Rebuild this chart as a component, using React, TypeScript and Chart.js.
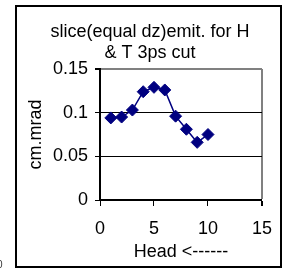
import React, { useEffect, useRef } from "react";
import { Chart, registerables } from "chart.js";

Chart.register(...registerables);

const titleLines = ["slice(equal dz)emit. for H", "& T 3ps cut"];
const xAxisTitle = "Head <------";
const yAxisTitle = "cm.mrad";
const slices = [1, 2, 3, 4, 5, 6, 7, 8, 9, 10];
const emittance = [0.094, 0.095, 0.103, 0.124, 0.129, 0.126, 0.096, 0.081, 0.066, 0.075];
const xTickValues = [0, 5, 10, 15];
const xTickLabels = ["0", "5", "10", "15"];
const yTickValues = [0, 0.05, 0.1, 0.15];
const yTickLabels = ["0", "0.05", "0.1", "0.15"];

const FONT_FAMILY = "'Liberation Sans', Arial, sans-serif";

export default function App() {
  const ref = useRef<HTMLCanvasElement | null>(null);

  useEffect(() => {
    if (!ref.current) return;
    const font = { family: FONT_FAMILY, size: 18, lineHeight: 1.2 };
    const titlePlugin = {
      id: "boxTitle",
      afterDraw(chart: any) {
        const ctx = chart.ctx;
        ctx.save();
        ctx.font = `18px ${FONT_FAMILY}`;
        ctx.fillStyle = "#000";
        ctx.textAlign = "center";
        ctx.textBaseline = "middle";
        titleLines.forEach((line, i) => ctx.fillText(line, 150, 32 + i * 21));
        ctx.restore();
      },
    };
    const chart = new Chart(ref.current, {
      type: "line",
      data: {
        datasets: [
          {
            data: slices.map((x, i) => ({ x, y: emittance[i] })),
            borderColor: "#000080",
            backgroundColor: "#000080",
            borderWidth: 1.5,
            pointStyle: "rectRot",
            pointRadius: 6,
            pointBorderWidth: 1,
            pointBackgroundColor: "#000080",
            pointBorderColor: "#000080",
            tension: 0,
          },
        ],
      },
      options: {
        responsive: false,
        animation: false,
        layout: { padding: { left: 16, top: 69, right: 20, bottom: 12 } },
        plugins: {
          legend: { display: false },
          tooltip: { enabled: false },
          title: { display: false },
        },
        scales: {
          x: {
            type: "linear",
            min: 0,
            max: 15,
            afterBuildTicks: (s: any) => {
              s.ticks = xTickValues.map((v) => ({ value: v }));
            },
            afterFit: (s: any) => {
              s.height = 63;
            },
            ticks: {
              font,
              color: "#000",
              padding: 12,
              maxRotation: 0,
              autoSkip: false,
              callback: (v: any) => xTickLabels[xTickValues.indexOf(Number(v))] ?? "",
            },
            grid: {
              color: (c: any) => (c.tick && c.tick.value === 15 ? "#808080" : "rgba(0,0,0,0)"),
              lineWidth: (c: any) => (c.tick && c.tick.value === 15 ? 2 : 1),
              tickColor: "#000",
              tickLength: 6,
            },
            border: { color: "#000", width: 2 },
            title: { display: true, text: xAxisTitle, font, color: "#000", padding: 0 },
          },
          y: {
            type: "linear",
            min: 0,
            max: 0.15,
            afterBuildTicks: (s: any) => {
              s.ticks = yTickValues.map((v) => ({ value: v }));
            },
            afterFit: (s: any) => {
              s.width = 84;
            },
            ticks: {
              font,
              color: "#000",
              padding: 7,
              autoSkip: false,
              callback: (v: any) => {
                const idx = yTickValues.findIndex((t) => Math.abs(t - Number(v)) < 1e-9);
                return idx >= 0 ? yTickLabels[idx] : "";
              },
            },
            grid: {
              color: (c: any) => {
                if (!c.tick) return "#000";
                if (Math.abs(c.tick.value - 0.15) < 1e-9) return "#808080";
                if (c.tick.value === 0) return "rgba(0,0,0,0)";
                return "#000";
              },
              lineWidth: (c: any) => (c.tick && Math.abs(c.tick.value - 0.15) < 1e-9 ? 2 : 1),
              tickColor: "#000",
              tickLength: 5,
            },
            border: { color: "#000", width: 2 },
            title: { display: true, text: yAxisTitle, font, color: "#000", padding: { top: 9, bottom: 0 } },
          },
        },
      } as any,
      plugins: [titlePlugin],
    } as any);
    return () => chart.destroy();
  }, []);

  return (
    <>
      <div
        style={{
          position: "absolute",
          left: 15,
          top: 5,
          width: 267,
          height: 263,
          border: "2px solid #000",
          boxSizing: "border-box",
        }}
      />
      <canvas
        ref={ref}
        width={284}
        height={275}
        style={{ position: "absolute", left: 0, top: 0, width: 284, height: 275 }}
      />
      <span
        style={{
          position: "absolute",
          left: -3,
          top: 260,
          fontSize: 10,
          lineHeight: 1,
          fontFamily: FONT_FAMILY,
          color: "#333",
        }}
      >
        0
      </span>
    </>
  );
}
